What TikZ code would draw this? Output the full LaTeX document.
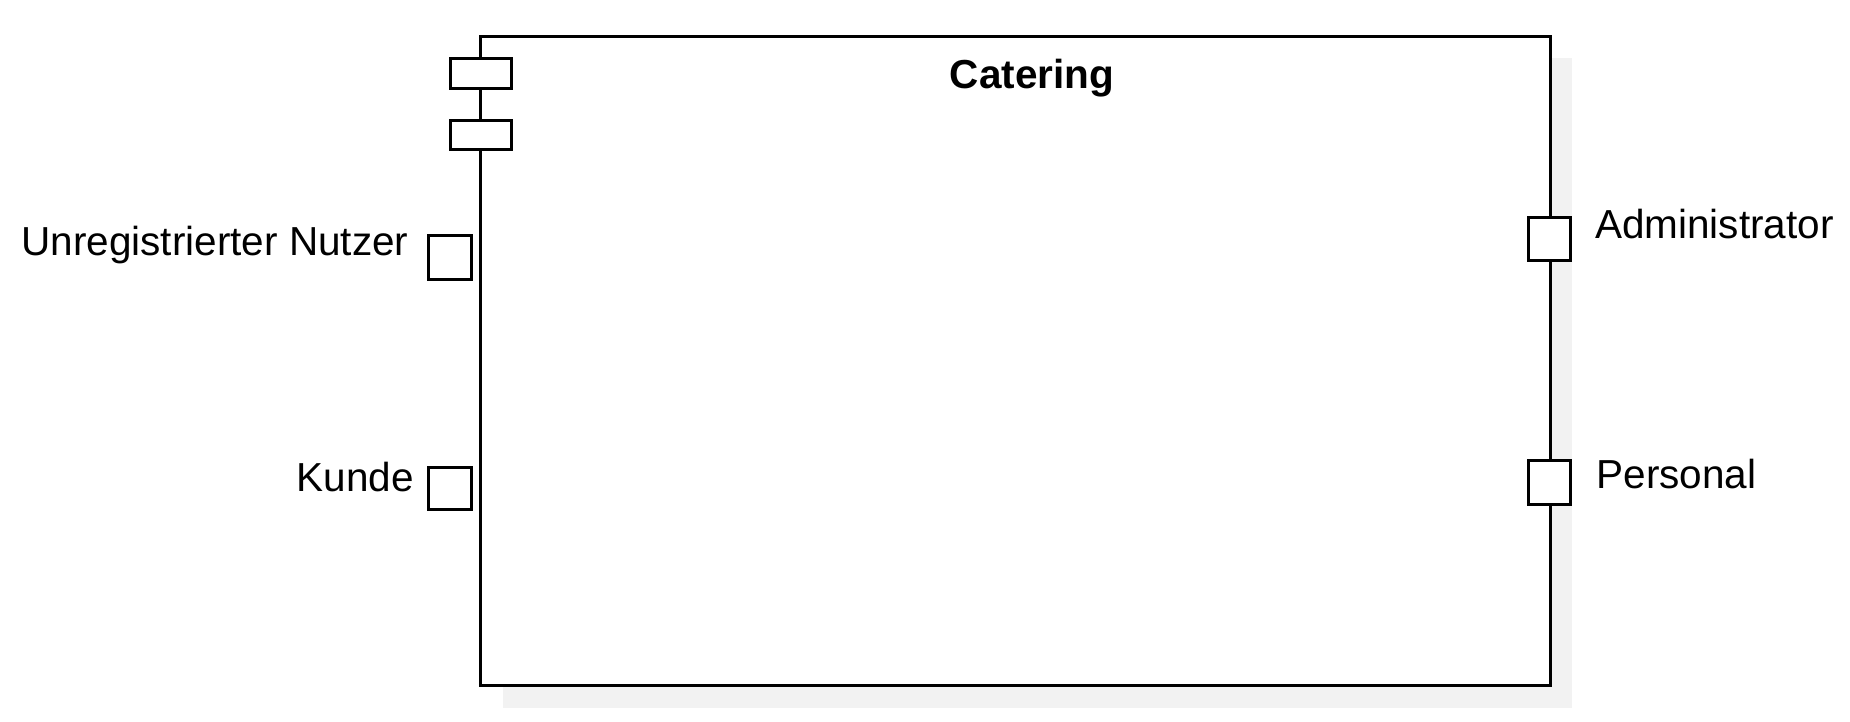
\documentclass[tikz,border=0pt]{standalone}
\usepackage{fontspec}
\setmainfont{Liberation Sans}
\begin{document}
\begin{tikzpicture}[x=1pt,y=-1pt,
  box/.style={draw=black,line width=3pt,fill=white,inner sep=0pt,outer sep=0pt},
  lbl/.style={inner sep=0pt,outer sep=0pt,font=\fontsize{40.5}{48}\selectfont}]
\useasboundingbox (0,0) rectangle (1850,721);
% shadow
\fill[black!5] (503,58) rectangle (1572,707.5);
% main component
\node[box,minimum width=1069.5pt,minimum height=649pt] (main) at (1015.25,360.5) {};
% component tabs
\node[box,minimum width=61.3pt,minimum height=29.5pt] (tab1) at (481.3,73.5) {};
\node[box,minimum width=61.3pt,minimum height=29.5pt] (tab2) at (481.3,135) {};
% ports
\node[box,minimum width=42.6pt,minimum height=44pt] (pu) at (450,257.7) {};
\node[box,minimum width=42.6pt,minimum height=41.7pt] (pk) at (450,488.8) {};
\node[box,minimum width=41.8pt,minimum height=43pt] (pa) at (1549.6,238.8) {};
\node[box,minimum width=41.8pt,minimum height=43.9pt] (pp) at (1549.6,482.8) {};
% labels
\node[lbl,font=\fontsize{40.5}{48}\selectfont\bfseries,anchor=base] (title) at (1032,88.3) {Catering};
\node[lbl,anchor=base east] (lu) at (408.5,255) {Unregistrierter Nutzer};
\node[lbl,anchor=base east] (lk) at (414,491.7) {Kunde};
\node[lbl,anchor=base west] (la) at (1595,238.3) {Administrator};
\node[lbl,anchor=base west] (lp) at (1596.5,488.3) {Personal};
\end{tikzpicture}
\end{document}
